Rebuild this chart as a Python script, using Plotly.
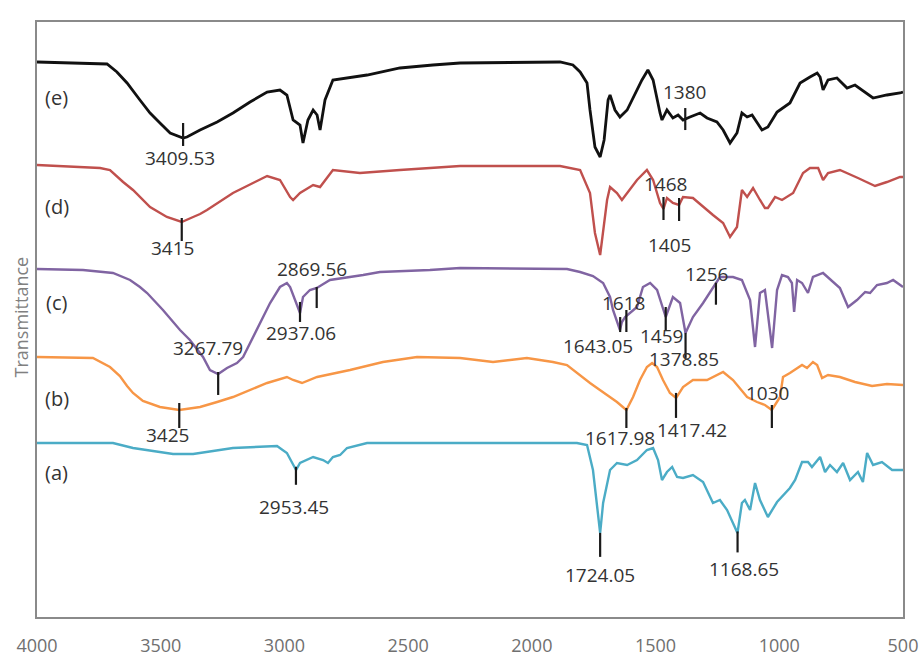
import numpy as np
import plotly.graph_objects as go

# FTIR spectra (wavenumber in cm^-1, transmittance in arbitrary stacked units)
WN_A = [4000, 3693, 3612, 3450, 3369, 3208, 3030, 2990, 2953, 2937, 2884, 2844, 2824, 2804,
        2775, 2747, 2666, 2290, 1818, 1777, 1753, 1724, 1712, 1684, 1656, 1615, 1575, 1535,
        1510, 1490, 1474, 1454, 1433, 1413, 1389, 1349, 1308, 1268, 1240, 1211, 1169, 1151,
        1139, 1118, 1098, 1078, 1046, 1009, 957, 936, 908, 884, 868, 835, 815, 795, 767, 742,
        714, 682, 662, 645, 621, 585, 544, 512, 500]
T_A = [174, 174, 169, 163, 163, 169, 171, 164, 147, 154, 160, 157, 154, 160,
       162, 169, 174, 174, 174, 172, 147, 84, 114, 147, 154, 152, 157, 167,
       169, 157, 137, 145, 150, 140, 139, 142, 135, 114, 117, 107, 84, 114,
       117, 107, 134, 117, 100, 115, 129, 137, 155, 155, 150, 160, 145, 152, 145, 154,
       137, 145, 135, 164, 152, 155, 147, 147, 147]

WN_B = [4000, 3774, 3705, 3665, 3636, 3612, 3572, 3503, 3425, 3369, 3341, 3272, 3208, 3070,
        2990, 2965, 2929, 2868, 2735, 2602, 2464, 2290, 2157, 2020, 1915, 1858, 1818, 1765,
        1725, 1684, 1656, 1618, 1591, 1563, 1535, 1514, 1494, 1470, 1442, 1417, 1389, 1349,
        1292, 1227, 1187, 1130, 1090, 1058, 1030, 997, 985, 957, 928, 908, 888, 864, 847,
        827, 803, 755, 694, 625, 565, 512, 500]
T_B = [260, 259, 250, 241, 231, 224, 216, 210, 207, 209, 210, 215, 220, 234,
       240, 237, 234, 240, 247, 255, 260, 259, 255, 259, 255, 252, 244, 234,
       227, 220, 215, 207, 220, 237, 250, 254, 250, 237, 224, 219, 230, 237,
       237, 245, 237, 220, 215, 212, 207, 220, 240, 244, 249, 252, 249, 255, 252,
       239, 242, 240, 235, 231, 233, 232, 232]

WN_C = [4000, 3814, 3693, 3624, 3584, 3555, 3491, 3422, 3382, 3353, 3329, 3301, 3268, 3232,
        3192, 3167, 3111, 3058, 3018, 2990, 2977, 2957, 2937, 2925, 2897, 2869, 2816, 2682,
        2614, 2412, 2290, 1858, 1805, 1753, 1712, 1684, 1672, 1644, 1636, 1623, 1603, 1575,
        1551, 1522, 1494, 1470, 1459, 1430, 1401, 1379, 1349, 1308, 1268, 1240, 1187, 1151,
        1118, 1098, 1078, 1058, 1029, 1009, 989, 965, 949, 940, 928, 908, 884, 864, 823,
        783, 755, 722, 686, 653, 633, 605, 565, 540, 512, 500]
T_C = [348, 347, 344, 337, 330, 324, 307, 287, 277, 267, 260, 247, 243, 249,
       254, 260, 287, 314, 330, 334, 330, 317, 304, 320, 327, 329, 337, 342,
       345, 347, 349, 348, 345, 341, 334, 320, 307, 287, 295, 300, 304, 310,
       330, 334, 327, 307, 300, 320, 314, 284, 300, 314, 330, 340, 340, 337,
       317, 270, 324, 327, 269, 327, 342, 340, 334, 305, 337, 334, 324, 340, 344,
       335, 329, 310, 317, 325, 324, 332, 334, 337, 332, 330]

WN_D = [4000, 3745, 3705, 3652, 3612, 3543, 3475, 3415, 3369, 3341, 3313, 3208, 3127, 3070,
        3018, 2977, 2965, 2937, 2884, 2856, 2804, 2695, 2533, 2290, 1886, 1805, 1765, 1745,
        1724, 1712, 1696, 1684, 1656, 1636, 1615, 1575, 1535, 1510, 1482, 1468, 1454, 1430,
        1405, 1389, 1349, 1308, 1268, 1227, 1199, 1171, 1151, 1130, 1106, 1078, 1058, 1046,
        1017, 989, 944, 904, 876, 843, 823, 803, 755, 682, 613, 565, 512, 500]
T_D = [452, 449, 447, 435, 427, 410, 400, 395, 400, 403, 407, 424, 434, 441,
       437, 420, 417, 424, 432, 430, 447, 444, 447, 451, 451, 447, 424, 384,
       362, 384, 417, 430, 424, 417, 424, 437, 447, 437, 414, 408, 419, 414,
       412, 420, 419, 410, 402, 394, 380, 390, 427, 420, 429, 417, 409, 409,
       420, 417, 424, 444, 449, 449, 437, 444, 447, 439, 431, 435, 440, 440]

WN_E = [4000, 3717, 3677, 3636, 3584, 3543, 3503, 3475, 3462, 3410, 3394, 3341, 3272, 3208,
        3139, 3070, 3018, 2990, 2965, 2937, 2925, 2905, 2884, 2868, 2856, 2836, 2804, 2666,
        2533, 2400, 2290, 1886, 1834, 1805, 1777, 1765, 1745, 1724, 1708, 1692, 1684, 1664,
        1644, 1615, 1575, 1555, 1531, 1510, 1482, 1474, 1454, 1430, 1409, 1389, 1361, 1320,
        1292, 1252, 1227, 1199, 1171, 1151, 1130, 1110, 1078, 1070, 1046, 1009, 957, 916,
        876, 847, 835, 823, 803, 767, 726, 694, 621, 565, 512, 500]
T_E = [555, 553, 545, 534, 517, 504, 494, 487, 484, 479, 480, 487, 495, 504,
       515, 525, 527, 522, 497, 492, 474, 497, 507, 502, 487, 517, 537, 542,
       549, 552, 554, 555, 552, 545, 534, 507, 470, 460, 477, 517, 522, 507,
       500, 507, 527, 537, 547, 537, 504, 497, 507, 499, 502, 497, 500, 504,
       499, 495, 487, 474, 484, 504, 500, 502, 490, 487, 490, 505, 514, 534,
       540, 544, 540, 527, 537, 539, 529, 532, 519, 522, 524, 525]

SERIES_NAMES = ["(a)", "(b)", "(c)", "(d)", "(e)"]

# peak labels per spectrum
PEAKS_A = ["2953.45", "1724.05", "1168.65"]
PEAKS_B = ["3425", "1617.98", "1417.42", "1030"]
PEAKS_C = ["3267.79", "2937.06", "2869.56", "1643.05", "1618", "1459", "1378.85", "1256"]
PEAKS_D = ["3415", "1468", "1405"]
PEAKS_E = ["3409.53", "1380"]

# ---- styling / placement -------------------------------------------------
COLORS = ["#4bacc6", "#f79646", "#8064a2", "#c0504d", "#111111"]
WIDTHS = [2.4, 2.4, 2.4, 2.4, 2.8]
NAME_Y = [145, 219, 315, 411, 520]

# marker bar (top, bottom) relative to the curve, label shift (dx, dy) in px
MARK_STYLE = {
    "2953.45": (3, -15, -2, -37), "1724.05": (0, -24, 0, -42), "1168.65": (1, -20, 6, -37),
    "3425": (7, -18, -12, -25), "1617.98": (2, -18, -6, -28), "1417.42": (5, -20, 16, -32),
    "1030": (5, -18, -4, 17),
    "3267.79": (2, -21, -10, 26), "2937.06": (11, -9, 1, -20), "2869.56": (1, -20, -5, 19),
    "1643.05": (12, -3, -22, -17), "1618": (6, -16, -3, 13), "1459": (10, -13, -4, -19),
    "1378.85": (0, -25, -2, -26), "1256": (0, -22, -9, 9),
    "3415": (4, -19, -9, -26), "1468": (12, -11, 2, 25), "1405": (7, -16, -10, -40),
    "3409.53": (15, -8, -3, -20), "1380": (11, -11, -1, 27),
}

LABEL_FONT = "Open Sans, DejaVu Sans, sans-serif"

spectra = [(WN_A, T_A, PEAKS_A), (WN_B, T_B, PEAKS_B), (WN_C, T_C, PEAKS_C),
           (WN_D, T_D, PEAKS_D), (WN_E, T_E, PEAKS_E)]

fig = go.Figure()
shapes = []
annotations = []

for i, (wn, t, peaks) in enumerate(spectra):
    fig.add_trace(go.Scatter(
        x=wn, y=t, mode="lines", name=SERIES_NAMES[i],
        line=dict(color=COLORS[i], width=WIDTHS[i]),
        showlegend=False, hoverinfo="skip",
    ))
    wn_arr = np.array(wn, dtype=float)[::-1]
    t_arr = np.array(t, dtype=float)[::-1]
    for lab in peaks:
        pos = float(lab)
        cy = float(np.interp(pos, wn_arr, t_arr))
        top, bot, dx, dy = MARK_STYLE[lab]
        shapes.append(dict(type="line", xref="x", yref="y", x0=pos, x1=pos,
                           y0=cy + bot, y1=cy + top,
                           line=dict(color="#1a1a1a", width=2.2)))
        annotations.append(dict(x=pos, y=cy, xref="x", yref="y", text=lab,
                                showarrow=False, xshift=dx, yshift=dy,
                                xanchor="center", yanchor="middle",
                                font=dict(family=LABEL_FONT, size=19, color="#333333")))
    annotations.append(dict(x=3920, y=NAME_Y[i], xref="x", yref="y", text=SERIES_NAMES[i],
                            showarrow=False, xanchor="center", yanchor="middle",
                            font=dict(family=LABEL_FONT, size=20, color="#333333")))

annotations.append(dict(x=-0.0185, y=0.505, xref="paper", yref="paper", text="Transmittance",
                        showarrow=False, textangle=-90, xanchor="center", yanchor="middle",
                        font=dict(family=LABEL_FONT, size=18, color="#808080")))

fig.update_layout(
    width=921, height=659,
    margin=dict(l=37, r=18, t=22, b=42),
    paper_bgcolor="white", plot_bgcolor="white",
    shapes=shapes, annotations=annotations,
    xaxis=dict(range=[4000, 500], tickvals=[4000, 3500, 3000, 2500, 2000, 1500, 1000, 500],
               automargin=False,
               showgrid=False, zeroline=False, showline=True, mirror=True,
               linecolor="#8a8a8a", linewidth=1.5,
               ticks="outside", ticklen=12, tickcolor="rgba(0,0,0,0)",
               tickfont=dict(family=LABEL_FONT, size=18, color="#707070")),
    yaxis=dict(range=[0, 595], showticklabels=False, showgrid=False, zeroline=False,
               automargin=False,
               showline=True, mirror=True, linecolor="#8a8a8a", linewidth=1.5, ticks=""),
)

fig.write_html("out.html")
